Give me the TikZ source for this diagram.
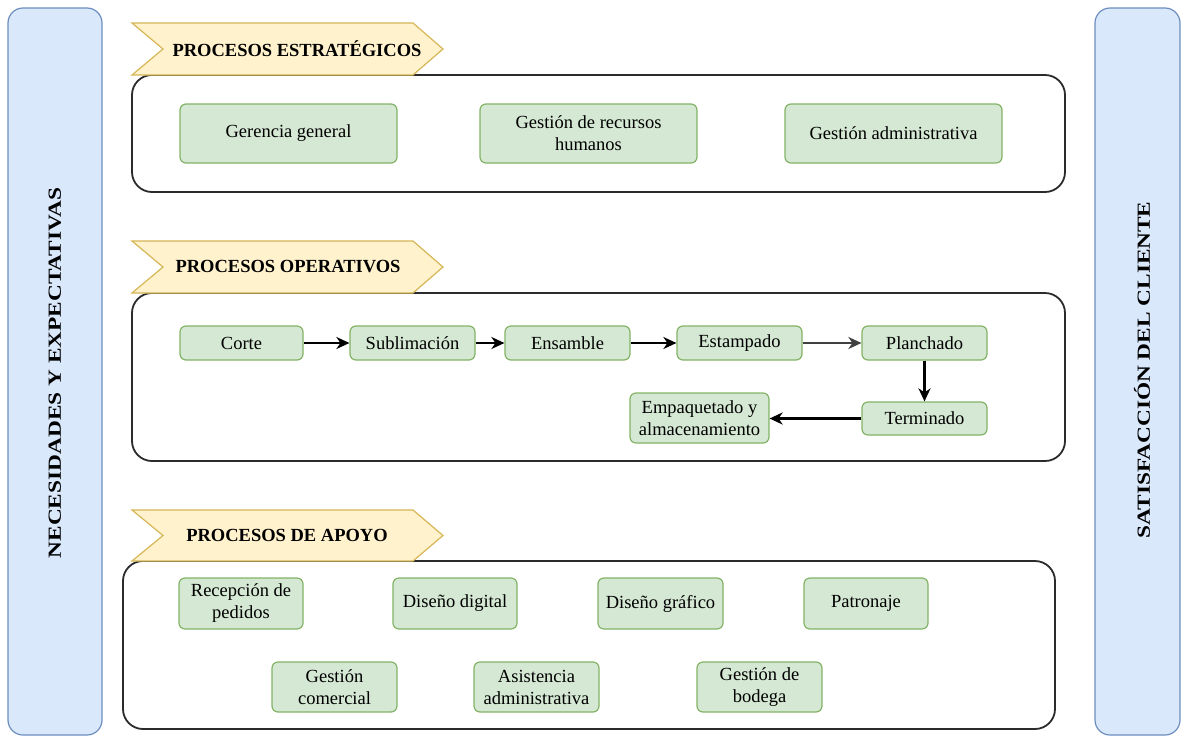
\documentclass[tikz,border=0pt]{standalone}
\usepackage{fontspec}
\setmainfont{Liberation Serif}
\usetikzlibrary{arrows.meta}
\definecolor{greenfill}{HTML}{D5E8D4}
\definecolor{greenline}{HTML}{82B366}
\definecolor{bluefill}{HTML}{DAE8FC}
\definecolor{blueline}{HTML}{6C8EBF}
\definecolor{yellowfill}{HTML}{FFF2CC}
\definecolor{yellowline}{HTML}{D6B656}
\definecolor{framecol}{HTML}{2B2B2B}
\begin{document}
\begin{tikzpicture}[x=1pt,y=-1pt,
  every node/.style={font=\fontsize{18.5}{22}\selectfont},
  gbox/.style={draw=greenline, fill=greenfill, rounded corners=6pt, line width=1.2pt,
               align=center, inner sep=2pt},
  frame/.style={draw=framecol, line width=1.8pt, rounded corners=20pt},
  sidebox/.style={draw=blueline, fill=bluefill, rounded corners=15pt, line width=1.2pt},
  chev/.style={draw=yellowline, fill=yellowfill, line width=1.2pt},
  head/.style={font=\fontsize{18.5}{22}\selectfont\bfseries},
  sidetext/.style={rotate=90, font=\fontsize{18.5}{22}\selectfont\bfseries},
  flow/.style={-{Stealth[length=13pt,width=12pt,inset=4pt]}, line width=2.3pt, draw=black}
]
\useasboundingbox (0,0) rectangle (1187,737);

% side columns
\draw[sidebox] (8,8) rectangle (102,735);
\draw[sidebox] (1095,8) rectangle (1180,735);
\node[sidetext] (nec) at (55,373) {\scalebox{1.26}[1]{NECESIDADES Y EXPECTATIVAS}};
\node[sidetext] (sat) at (1142,370) {\scalebox{1.26}[1]{SATISFACCIÓN DEL CLIENTE}};

% strategic processes
\draw[frame] (132,75) rectangle (1065,192);
\draw[chev] (132,23) -- (413,23) -- (443,49) -- (413,75) -- (132,75) -- (163,49) -- cycle;
\node[head] (hest) at (297,49) {PROCESOS ESTRATÉGICOS};
\node[gbox, minimum width=217pt, minimum height=59pt] (gg)  at (288.5,133.5) {Gerencia general};
\node[gbox, minimum width=217pt, minimum height=59pt] (grh) at (588.5,133.5) {Gestión de recursos\\humanos};
\node[gbox, minimum width=217pt, minimum height=59pt] (gad) at (893.5,133.5) {Gestión administrativa};

% operative processes
\draw[frame] (132,293) rectangle (1065,461);
\draw[chev] (132,241) -- (413,241) -- (443,267) -- (413,293) -- (132,293) -- (163,267) -- cycle;
\node[head] (hop) at (288,267) {PROCESOS OPERATIVOS};
\node[gbox, minimum width=123pt, minimum height=34pt] (corte) at (241.5,343) {Corte};
\node[gbox, minimum width=125pt, minimum height=34pt] (subl)  at (412.5,343) {Sublimación};
\node[gbox, minimum width=125pt, minimum height=34pt] (ens)   at (567.5,343) {Ensamble};
\node[gbox, minimum width=125pt, minimum height=34pt] (est)   at (739.5,343) {Estampado};
\node[gbox, minimum width=125pt, minimum height=34pt] (plan)  at (924.5,343) {Planchado};
\node[gbox, minimum width=125pt, minimum height=33pt] (term)  at (924.5,418.5) {Terminado};
\node[gbox, minimum width=139pt, minimum height=50pt] (emp)   at (699.5,418) {Empaquetado y\\almacenamiento};
\draw[flow] (corte) -- (subl);
\draw[flow] (subl) -- (ens);
\draw[flow] (ens) -- (est);
\draw[flow, draw=black!75] (est) -- (plan);
\draw[flow] (plan) -- (term);
\draw[flow] (term.west) -- (term.west -| emp.east);

% support processes
\draw[frame] (123,561) rectangle (1055,729);
\draw[chev] (132,510) -- (413,510) -- (443,535.5) -- (413,561) -- (132,561) -- (163,535.5) -- cycle;
\node[head] (hap) at (287,535.5) {PROCESOS DE APOYO};
\node[gbox, minimum width=124pt, minimum height=51pt] (rec)  at (241,603.5) {Recepción de\\pedidos};
\node[gbox, minimum width=124pt, minimum height=51pt] (dd)   at (455,603.5) {Diseño digital};
\node[gbox, minimum width=125pt, minimum height=51pt] (dg)   at (660.5,603.5) {Diseño gráfico};
\node[gbox, minimum width=124pt, minimum height=51pt] (pat)  at (866,603.5) {Patronaje};
\node[gbox, minimum width=125pt, minimum height=50pt] (gc)   at (334.5,687) {Gestión\\comercial};
\node[gbox, minimum width=125pt, minimum height=50pt] (asis) at (536.5,687) {Asistencia\\administrativa};
\node[gbox, minimum width=125pt, minimum height=50pt] (gb)   at (759.5,687) {Gestión de\\bodega};
\end{tikzpicture}
\end{document}
